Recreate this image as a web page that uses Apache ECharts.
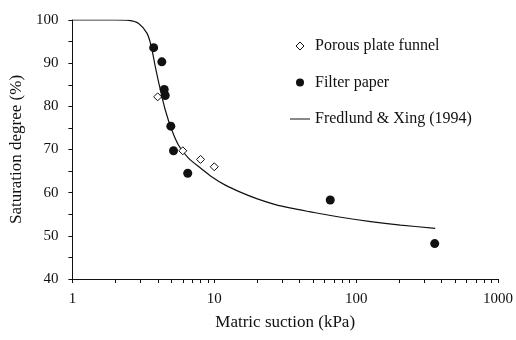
<!DOCTYPE html>
<html>
<head>
<meta charset="utf-8">
<script src="https://cdn.jsdelivr.net/npm/echarts@6/dist/echarts.min.js"></script>
<style>
  html, body { margin: 0; padding: 0; background: #fff; }
  #chart { width: 516px; height: 340px; }
</style>
</head>
<body>
<div id="chart"></div>
<script>
// filter paper measurements
const fpSuction = [3.74, 4.27, 4.44, 4.51, 4.94, 5.16, 6.5, 65.7, 358];
const fpSat = [93.6, 90.3, 83.9, 82.5, 75.4, 69.7, 64.5, 58.3, 48.2];
// porous plate funnel
const ppSuction = [3.99, 6.0, 8.0, 10.0];
const ppSat = [82.2, 69.7, 67.7, 66.0];
// Fredlund & Xing fit
const fitSuction = [1, 1.5, 2, 2.5, 2.93, 3.36, 3.6, 3.84, 4.12, 4.51, 5.02, 5.6, 6.58, 8.15, 9.58, 11.88, 15.55, 20.35, 26.6, 34.8, 46.8, 78, 126.7, 205.6, 361];
const fitSat = [100, 100, 100, 99.9, 99.2, 96.9, 93.8, 89.2, 84.55, 79.2, 74.5, 71.0, 68.0, 65.5, 63.7, 61.8, 60.0, 58.5, 57.3, 56.4, 55.6, 54.3, 53.3, 52.5, 51.75];
const xTicks = [1, 2, 3, 4, 5, 6, 7, 8, 9, 10, 20, 30, 40, 50, 60, 70, 80, 90, 100, 200, 300, 400, 500, 600, 700, 800, 900, 1000];
const xLabels = [1, 10, 100, 1000];

const font = 'Liberation Serif';
const ink = '#111';

const pair = (xs, ys) => xs.map((x, i) => [x, ys[i]]);

const myChart = echarts.init(document.getElementById('chart'));
myChart.setOption({
  animation: false,
  backgroundColor: '#fff',
  textStyle: { fontFamily: font, color: ink },
  grid: { left: 70, right: 18, top: 20, bottom: 61 },
  legend: {
    orient: 'vertical',
    left: 290,
    top: 38,
    padding: 0,
    itemWidth: 20,
    itemHeight: 8,
    itemGap: 20.5,
    symbolKeepAspect: true,
    textStyle: { fontFamily: font, fontSize: 16, color: ink },
    data: [
      { name: 'Porous plate funnel', icon: 'path://M5,0L10,5L5,10L0,5Z', itemStyle: { color: '#fff', borderColor: ink, borderWidth: 1 } },
      { name: 'Filter paper', icon: 'circle', itemStyle: { color: ink } },
      { name: 'Fredlund & Xing (1994)', icon: 'path://M0,0L30,0L30,1.5L0,1.5Z', itemStyle: { color: ink } }
    ]
  },
  xAxis: {
    type: 'log',
    logBase: 10,
    min: 1,
    max: 1000,
    name: 'Matric suction (kPa)',
    nameLocation: 'middle',
    nameGap: 35,
    nameTextStyle: { fontFamily: font, fontSize: 17, color: ink },
    axisLine: { lineStyle: { color: ink, width: 1 } },
    axisTick: { customValues: xTicks, length: 4, lineStyle: { color: ink } },
    axisLabel: {
      customValues: xLabels, margin: 13, fontFamily: font, fontSize: 15, color: ink,
      formatter: v => String(Math.round(v))
    },
    splitLine: { show: false }
  },
  yAxis: {
    type: 'value',
    min: 40,
    max: 100,
    interval: 5,
    name: 'Saturation degree (%)',
    nameLocation: 'middle',
    nameGap: 34,
    nameTextStyle: { fontFamily: font, fontSize: 17, color: ink },
    axisLine: { show: true, lineStyle: { color: ink, width: 1 } },
    axisTick: { show: true, length: 4, lineStyle: { color: ink } },
    axisLabel: {
      margin: 14, fontFamily: font, fontSize: 15, color: ink,
      formatter: v => (v % 10 === 0 ? v : '')
    },
    splitLine: { show: false }
  },
  series: [
    {
      name: 'Porous plate funnel',
      type: 'scatter',
      symbol: 'diamond',
      symbolSize: 8,
      itemStyle: { color: '#fff', borderColor: ink, borderWidth: 1, opacity: 1 },
      data: pair(ppSuction, ppSat),
      z: 3
    },
    {
      name: 'Filter paper',
      type: 'scatter',
      symbol: 'circle',
      symbolSize: 9,
      itemStyle: { color: ink, opacity: 1 },
      data: pair(fpSuction, fpSat),
      z: 3
    },
    {
      name: 'Fredlund & Xing (1994)',
      type: 'line',
      symbol: 'none',
      smooth: 0.3,
      itemStyle: { color: ink },
      lineStyle: { color: ink, width: 1.2 },
      data: pair(fitSuction, fitSat),
      z: 2
    }
  ]
});
</script>
</body>
</html>
